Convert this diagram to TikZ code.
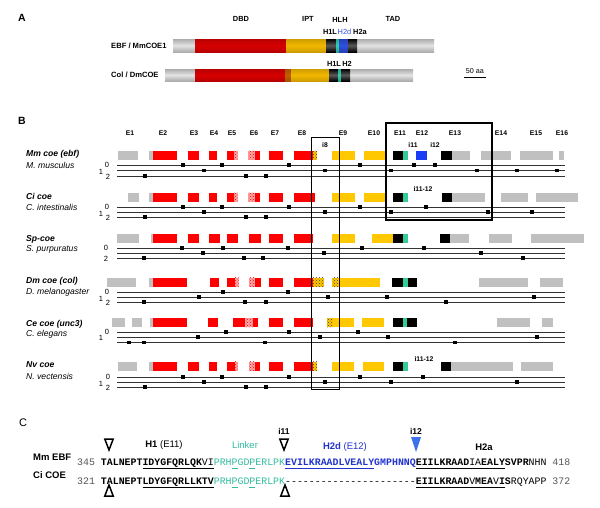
\documentclass[tikz,border=0pt]{standalone}
\usepackage{fontspec}
\setmainfont{Liberation Sans}
\newfontfamily\seqfont{Liberation Mono}
\usetikzlibrary{patterns}
\definecolor{exgray}{HTML}{C0C0C0}
\definecolor{exred}{HTML}{FF0000}
\definecolor{exyel}{HTML}{FFC800}
\definecolor{exteal}{HTML}{33CC99}
\definecolor{exblue}{HTML}{1A3CF5}
\definecolor{Ared}{HTML}{D80000}
\definecolor{Ayel}{HTML}{F2B800}
\definecolor{Ablue}{HTML}{3050E0}
\definecolor{Ateal}{HTML}{30D0B0}
\definecolor{Abrown}{HTML}{C06000}
\definecolor{lnk}{HTML}{33BBA0}
\definecolor{htwo}{HTML}{2233CC}
\definecolor{itri}{HTML}{3D70EB}
\definecolor{numgray}{HTML}{555555}
\newcommand\fs[1]{\fontsize{#1}{#1}\selectfont}
\newcommand\exn[3]{\path[#1] (#2,\ry-4.5) rectangle (#3,\ry+4.5);}
\newcommand\mks[2]{\foreach \xx in {#2} {\fill (\xx-1.8,#1-1.8) rectangle (\xx+1.8,#1+1.8);}}
\newcommand\rlines[3]{\foreach \yy in {#1,#2,#3} {\draw[frameline] (117,\yy) -- (565,\yy);}}
\newcommand\tubeseg[6]{\shade[top color=#5, bottom color=#5, middle color=#6] (#1,#3-#4) rectangle (#2,#3+#4);}
\newcommand\ulx[1]{\underline{\vphantom{Q}#1}}
\newcommand\dsh{-\kern0pt}
\tikzset{
  gx/.style={fill=exgray}, rx/.style={fill=exred}, yx/.style={fill=exyel},
  kx/.style={fill=black}, tx/.style={fill=exteal}, bx/.style={fill=exblue},
  rh/.style={preaction={fill=exred!35}, pattern=crosshatch dots, pattern color=exred},
  yh/.style={preaction={fill=exyel}, pattern=crosshatch dots, pattern color=black!75},
  frameline/.style={draw=black!80, line width=0.7pt},
  hdr/.style={inner sep=0, font=\fs{7.4}\bfseries},
  exl/.style={inner sep=0, font=\fs{6.8}\bfseries},
  spn/.style={inner sep=0, anchor=west, font=\fs{8.6}\bfseries\itshape},
  spf/.style={inner sep=0, anchor=west, font=\fs{8.6}\itshape},
  frm/.style={inner sep=0, font=\fs{7.5}},
  panel/.style={inner sep=0, font=\fs{10.5}\bfseries},
  ctext/.style={inner sep=0, font=\fs{9.5}},
  otri/.style={draw=black, line width=1.5pt, line join=miter},
  seq/.style={inner sep=0, anchor=base west, font=\seqfont\fs{9.9}}
}
\begin{document}
\begin{tikzpicture}[x=1pt,y=-1pt]
\useasboundingbox (0,0) rectangle (600,507);
% ---------------- Panel A
\node[panel] (pA) at (22,18) {A};
\node[hdr] (dbd) at (241,19) {DBD};
\node[hdr] (ipt) at (308,19) {IPT};
\node[hdr] (hlh) at (340,20) {HLH};
\node[hdr] (tad) at (393,19) {TAD};
\node[hdr] (h1l) at (330,32) {H1L};
\node[hdr, text=Ablue, font=\fs{7.4}] (h2d) at (344.5,32) {H2d};
\node[hdr] (h2a) at (360,32) {H2a};
\node[hdr] (h1lb) at (334,64) {H1L};
\node[hdr] (h2b) at (347,64) {H2};
\node[hdr, anchor=west, font=\fs{7.6}\bfseries] (ebf) at (111,46) {EBF / MmCOE1};
\node[hdr, anchor=west, font=\fs{7.6}\bfseries] (col) at (111,75) {Col / DmCOE};
% bar 1
\tubeseg{173}{434}{45.5}{6.5}{gray!65}{gray!22}
\tubeseg{195}{286}{45.5}{6.5}{Ared!85!black}{Ared}
\tubeseg{286}{326}{45.5}{6.5}{Ayel!85!black}{Ayel}
\tubeseg{326}{336}{45.5}{6.5}{black}{black!65}
\tubeseg{336}{339}{45.5}{6.5}{Ateal!80!black}{Ateal}
\tubeseg{339}{348}{45.5}{6.5}{Ablue!80!black}{Ablue}
\tubeseg{348}{357}{45.5}{6.5}{black}{black!65}
% bar 2
\tubeseg{165}{413}{75}{6}{gray!65}{gray!22}
\tubeseg{195}{285}{75}{6}{Ared!85!black}{Ared}
\tubeseg{285}{291}{75}{6}{Abrown!85!black}{Abrown}
\tubeseg{291}{329}{75}{6}{Ayel!85!black}{Ayel}
\tubeseg{329}{338}{75}{6}{black}{black!65}
\tubeseg{338}{341}{75}{6}{Ateal!80!black}{Ateal}
\tubeseg{341}{350}{75}{6}{black}{black!65}
\node[inner sep=0, font=\fs{7.2}] (scl) at (475,71) {50 aa};
\draw[line width=1.6pt] (464,77.5) -- (486,77.5);
% ---------------- Panel B
\node[panel] (pB) at (22,121) {B};
\foreach \t/\x in {E1/130,E2/163,E3/194,E4/214,E5/232,E6/254,E7/275,E8/302,E9/343,E10/374,E11/400,E12/422,E13/455,E14/501,E15/536,E16/562}
  {\node[exl] (lab\t) at (\x,133) {\t};}
\node[exl] (i8) at (325,145) {i8};
\node[exl] (i11) at (413,145) {i11};
\node[exl] (i12) at (435,145) {i12};
\node[exl] (i1112a) at (423,189) {i11-12};
\node[exl] (i1112b) at (424,359) {i11-12};
% Mm
\node[spn] (n1) at (26,154) {Mm coe (ebf)};
\node[spf] (f1) at (26,165) {M. musculus};
\node[frm] at (107,165) {0}; \node[frm] at (101,172) {1}; \node[frm] at (108,177) {2};
\def\ry{155}
\exn{gx}{118}{138}
\exn{gx}{149}{153}\exn{rx}{153}{177}
\exn{rx}{188}{199}\exn{rx}{209}{217}
\exn{rx}{227}{234}\exn{rh}{234}{237.5}
\exn{rh}{248}{255}\exn{rx}{255}{260}
\exn{rx}{269}{283}
\exn{rx}{294}{313}\exn{yh}{313}{317}
\exn{yx}{332}{355}\exn{yx}{364}{385}
\exn{kx}{393}{403}\exn{tx}{403}{408}
\exn{bx}{416}{427}
\exn{kx}{441}{452}\exn{gx}{452}{470}
\exn{gx}{481}{511}\exn{gx}{520}{553}\exn{gx}{559}{564}
\rlines{165}{170.5}{176}
\mks{165}{183,222,289,360,414,435}
\mks{170.5}{204,325,391,477,517,557}
\mks{176}{145,246,266}
% Ci
\node[spn] (n2) at (26,196) {Ci coe};
\node[spf] (f2) at (26,207) {C. intestinalis};
\node[frm] at (107,207) {0}; \node[frm] at (101,214) {1}; \node[frm] at (108,218) {2};
\def\ry{197}
\exn{gx}{128}{139}
\exn{gx}{149}{153}\exn{rx}{153}{177}
\exn{rx}{188}{199}\exn{rx}{209}{217}
\exn{rx}{227}{234}\exn{rh}{234}{237.5}
\exn{rh}{248}{255}\exn{rx}{255}{260}
\exn{rx}{269}{283}
\exn{rx}{294}{315}
\exn{yx}{332}{355}\exn{yx}{364}{385}
\exn{kx}{393}{403}\exn{tx}{403}{408}
\exn{kx}{442}{452}\exn{gx}{452}{485}
\exn{gx}{501}{528}\exn{gx}{536}{578}
\rlines{207}{212}{217}
\mks{207}{183,222,289,360,426}
\mks{212}{204,325,391,488,532}
\mks{217}{145,246,266}
% Sp
\node[spn] (n3) at (26,239) {Sp-coe};
\node[spf] (f3) at (26,249) {S. purpuratus};
\node[frm] at (106,248) {0}; \node[frm] at (106,259) {2};
\def\ry{238}
\exn{gx}{117}{139}
\exn{gx}{151}{153}\exn{rx}{153}{177}
\exn{rx}{188}{199}\exn{rx}{209}{220}
\exn{rx}{227}{238}\exn{rx}{249}{261}
\exn{rx}{269}{283}
\exn{rx}{294}{313}
\exn{yx}{332}{355}\exn{yx}{372}{393}
\exn{kx}{393}{403}\exn{tx}{403}{408}
\exn{kx}{440}{450}\exn{gx}{450}{469}
\exn{gx}{489}{512}\exn{gx}{531}{584}
\rlines{248}{253}{258}
\mks{248}{182,223,288,362,424}
\mks{253}{203,324,481}
\mks{258}{144,244,263,523}
% Dm
\node[spn] (n4) at (26,281) {Dm coe (col)};
\node[spf] (f4) at (26,292) {D. melanogaster};
\node[frm] at (107,292) {0}; \node[frm] at (101,299) {1}; \node[frm] at (108,303) {2};
\def\ry{282}
\exn{gx}{107}{136}
\exn{gx}{149}{153}\exn{rx}{153}{187}
\exn{rx}{210}{219}
\exn{rx}{227}{235}\exn{rh}{235}{238.5}
\exn{rh}{249}{255}\exn{rx}{255}{261}
\exn{rx}{269}{283}
\exn{rx}{294}{313}\exn{yh}{313}{324}
\exn{yh}{332}{338}\exn{yx}{338}{380}
\exn{kx}{392}{403}\exn{tx}{403}{408}\exn{kx}{408}{417}
\exn{gx}{479}{528}\exn{gx}{540}{563}
\rlines{292}{297}{302}
\mks{292}{223,288}
\mks{297}{199,328,387,534}
\mks{302}{144,245,266,446}
% Ce
\node[spn] (n5) at (26,324) {Ce coe (unc3)};
\node[spf] (f5) at (26,334) {C. elegans};
\node[frm] at (107,332) {0}; \node[frm] at (101,338) {1};
\def\ry{322.5}
\exn{gx}{112}{125}\exn{gx}{132}{142}
\exn{gx}{150}{153}\exn{rx}{153}{187}
\exn{rx}{208}{218}
\exn{rx}{233}{245}\exn{rh}{245}{253}\exn{rx}{253}{258}
\exn{rx}{269}{283}
\exn{rx}{294}{313}
\exn{yh}{327}{333}\exn{yx}{333}{354}
\exn{yx}{362}{384}
\exn{kx}{393}{403}\exn{tx}{403}{407}\exn{kx}{407}{417}
\exn{gx}{497}{530}\exn{gx}{542}{553}
\rlines{332}{337}{342.5}
\mks{332}{226,289,358}
\mks{337}{198,320,388,537}
\mks{342.5}{129,144,265,455}
% Nv
\node[spn] (n6) at (26,365) {Nv coe};
\node[spf] (f6) at (26,376) {N. vectensis};
\node[frm] at (108,377) {0}; \node[frm] at (101,384) {1}; \node[frm] at (108,388) {2};
\def\ry{366}
\exn{gx}{118}{137}
\exn{gx}{149}{153}\exn{rx}{153}{177}
\exn{rx}{188}{199}\exn{rx}{209}{217}
\exn{rx}{227}{235}\exn{rh}{235}{238}
\exn{rh}{249}{255}\exn{rx}{255}{260}
\exn{rx}{269}{283}
\exn{rx}{294}{313}\exn{yh}{313}{317}
\exn{yx}{332}{354}\exn{yx}{363}{384}
\exn{kx}{393}{403}\exn{tx}{403}{408}
\exn{kx}{441}{451}\exn{gx}{451}{513}
\exn{gx}{521}{553}
\rlines{377}{382}{387}
\mks{377}{183,222,289,360,423}
\mks{382}{204,325,391,517}
\mks{387}{145,246,266}
% boxes
\draw[line width=1.3pt] (386,123) rectangle (492,220);
\draw[line width=0.8pt] (311,137) rectangle (339,389.5);
% ---------------- Panel C
\node[inner sep=0, font=\fs{11}] (pC) at (23,423) {C};
\node[ctext] (h1) at (164,445) {\textbf{H1} (E11)};
\node[ctext, text=lnk] (lk) at (245,445) {Linker};
\node[ctext, text=htwo] (h2dc) at (345,447) {\textbf{H2d} (E12)};
\node[ctext] (h2ac) at (484,447) {\textbf{H2a}};
\node[ctext, font=\fs{8.5}\bfseries] (t11) at (284,431) {i11};
\node[ctext, font=\fs{8.5}\bfseries] (t12) at (416,431) {i12};
\node[ctext, anchor=west, font=\fs{9.5}\bfseries] (mm) at (33,457) {Mm EBF};
\node[ctext, anchor=west, font=\fs{9.5}\bfseries] (ci) at (33,475) {Ci COE};
\draw[otri] (104.8,439) -- (113.2,439) -- (109,450) -- cycle;
\draw[otri] (279.8,439) -- (288.2,439) -- (284,450) -- cycle;
\draw[otri] (104.8,496) -- (113.2,496) -- (109,485) -- cycle;
\draw[otri] (280.8,496) -- (289.2,496) -- (285,485) -- cycle;
\fill[itri] (411,437) -- (421,437) -- (416,452) -- cycle;
\node[seq] (s1) at (77,465) {{\color{numgray}345~}\textbf{TALNEPT}\ulx{\textbf{IDYGFQRLQK}VI}{\color{lnk}PRH\ulx{P}GD\ulx{P}ERLPK}{\color{htwo}\bfseries\ulx{EVILKRAADLVEALY}GMPHNNQ}\ulx{\textbf{EIILKRAAD}IA\textbf{EALY}}\textbf{SVPR}NHN{\color{numgray}~418}};
\node[seq] (s2) at (77,484) {{\color{numgray}321~}\textbf{TALNEPT}\ulx{\textbf{LDYGFQRLLKTV}}{\color{lnk}PRH\ulx{P}GD\ulx{P}ERLPK}\dsh\dsh\dsh\dsh\dsh\dsh\dsh\dsh\dsh\dsh\dsh\dsh\dsh\dsh\dsh\dsh\dsh\dsh\dsh\dsh\dsh\dsh\ulx{\textbf{EIILKRAAD}V\textbf{MEA}V\textbf{I}}\textbf{S}RQYAPP{\color{numgray}~372}};
\end{tikzpicture}
\end{document}
